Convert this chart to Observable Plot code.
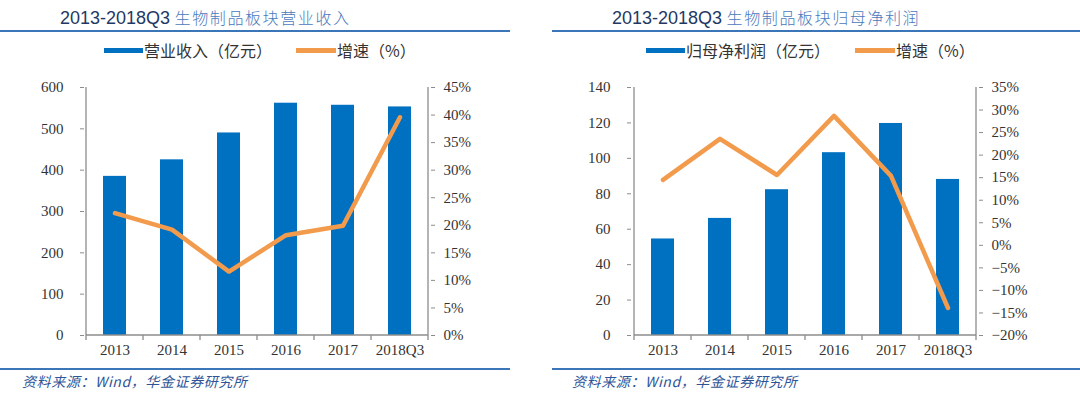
<!DOCTYPE html>
<html>
<head>
<meta charset="utf-8">
<script src="https://cdn.jsdelivr.net/npm/d3@7"></script>
<script src="https://cdn.jsdelivr.net/npm/@observablehq/plot@0.6"></script>
<style>
  html, body { margin: 0; padding: 0; background: #fff; }
  #root { position: relative; width: 1080px; height: 395px; overflow: hidden; background: #fff; }
  .panel { position: absolute; top: 0; width: 540px; height: 395px; }
  .title { position: absolute; top: 5px; white-space: nowrap; font-size: 18px; line-height: 24px; }
  .title .num { font-family: "Liberation Sans", Arial, sans-serif; color: #1f3864; }
  .title .cn { font-family: "Noto Sans CJK SC", sans-serif; color: #4a78bd; font-size: 16px; letter-spacing: 1.6px; font-weight: 300; }
  .hline { position: absolute; height: 2px; background: #3a76b8; }
  .legend { position: absolute; top: 38px; height: 24px; font-family: "Noto Sans CJK SC", sans-serif; font-size: 16px; color: #333; line-height: 24px; white-space: nowrap; }
  .sw { position: absolute; top: 10px; height: 5px; }
  .lt { position: absolute; top: 0; }
  .source { position: absolute; top: 371px; font-family: "Noto Sans CJK SC", sans-serif; font-style: italic; font-size: 14px; letter-spacing: 0.6px; color: #2f5597; white-space: nowrap; line-height: 20px; }
  .plotwrap { position: absolute; top: 70px; left: 0; }
</style>
</head>
<body>
<div id="root"></div>
<script>
// ---- data ----
const years = ["2013", "2014", "2015", "2016", "2017", "2018Q3"];
const revenue = [385, 425, 490, 562, 557, 553];          // 营业收入（亿元）
const revenueGrowth = [22.2, 19.2, 11.6, 18.2, 19.9, 39.6]; // 增速（%）
const profit = [54.5, 66.1, 82.3, 103.2, 119.7, 88.1];    // 归母净利润（亿元）
const profitGrowth = [14.5, 23.6, 15.6, 28.7, 15.4, -13.9]; // 增速（%）
const revenueTicks = [0, 100, 200, 300, 400, 500, 600];
const revenuePctTicks = [0, 5, 10, 15, 20, 25, 30, 35, 40, 45];
const profitTicks = [0, 20, 40, 60, 80, 100, 120, 140];
const profitPctTicks = [-20, -15, -10, -5, 0, 5, 10, 15, 20, 25, 30, 35];

const BLUE = "#0070c0";
const ORANGE = "#f39b4d";
const AXIS = "#8c8c8c";

function pctFmt(v) {
  return (v < 0 ? "\u2212" + Math.abs(v) : String(v)) + "%";
}

function makeChart(cfg) {
  const data = years.map((c, i) => ({cat: c, val: cfg.bars[i], pct: cfg.pct[i]}));
  const yDomain = [cfg.yTicks[0], cfg.yTicks[cfg.yTicks.length - 1]];
  const pDomain = [cfg.pTicks[0], cfg.pTicks[cfg.pTicks.length - 1]];
  const toY = d3.scaleLinear().domain(pDomain).range(yDomain);

  const axisLines = (index, scales, values, dims) => {
    const x = scales.x, y = scales.y;
    const bw = typeof x.bandwidth === "function" ? x.bandwidth() : x.bandwidth;
    const step = x(years[1]) - x(years[0]);
    const g = d3.create("svg:g").attr("stroke", AXIS).attr("stroke-width", 1.3).attr("fill", "none");
    const left = x(years[0]) + bw / 2 - step / 2;
    const right = x(years[years.length - 1]) + bw / 2 + step / 2;
    const top = y(yDomain[1]), bottom = y(yDomain[0]);
    g.append("line").attr("x1", left).attr("x2", left).attr("y1", top).attr("y2", bottom);
    g.append("line").attr("x1", right).attr("x2", right).attr("y1", top).attr("y2", bottom);
    g.append("line").attr("x1", left).attr("x2", right).attr("y1", bottom).attr("y2", bottom);
    const bounds = years.map(c => x(c) + bw / 2 - step / 2).concat([right]);
    for (const b of bounds) {
      g.append("line").attr("x1", b).attr("x2", b).attr("y1", bottom).attr("y2", bottom + 5);
    }
    return g.node();
  };

  return Plot.plot({
    width: 540,
    height: 300,
    marginTop: 17,
    marginBottom: 35,
    marginLeft: cfg.ml,
    marginRight: cfg.mr,
    style: {fontFamily: "'Liberation Serif', 'Times New Roman', serif", fontSize: "15px", color: "#333", background: "transparent"},
    x: {domain: years, paddingInner: 0.6, paddingOuter: 0.3, label: null},
    y: {domain: yDomain, label: null},
    marks: [
      Plot.barY(data, {x: "cat", y: "val", fill: BLUE}),
      Plot.lineY(data, {x: "cat", y: d => toY(d.pct), stroke: ORANGE, strokeWidth: 4.5, strokeLinejoin: "round", strokeLinecap: "round"}),
      axisLines,
      Plot.axisY(cfg.yTicks, {anchor: "left", tickSize: 4, tickPadding: 17, stroke: AXIS, fill: "#333", label: null}),
      Plot.axisY(cfg.pTicks.map(v => toY(v)), {anchor: "right", tickSize: 4, tickPadding: 9, stroke: AXIS, fill: "#333", label: null,
        tickFormat: v => pctFmt(Math.round(toY.invert(v)))}),
      Plot.axisX({tickSize: 0, tickPadding: 9, fill: "#333", label: null})
    ]
  });
}

const panels = [
  {
    left: 0,
    titleX: 60, title: "生物制品板块营业收入",
    topLine: [0, 510], botLine: [0, 510],
    leg1: "营业收入（亿元）", sw1: 104, sw2: 296,
    sourceX: 22,
    bars: revenue, pct: revenueGrowth, yTicks: revenueTicks, pTicks: revenuePctTicks, ml: 84, mr: 110
  },
  {
    left: 540,
    titleX: 72, title: "生物制品板块归母净利润",
    topLine: [12, 540], botLine: [12, 540],
    leg1: "归母净利润（亿元）", sw1: 106, sw2: 315,
    sourceX: 32,
    bars: profit, pct: profitGrowth, yTicks: profitTicks, pTicks: profitPctTicks, ml: 91, mr: 102
  }
];

const root = document.getElementById("root");
for (const p of panels) {
  const panel = document.createElement("div");
  panel.className = "panel";
  panel.style.left = p.left + "px";
  panel.innerHTML = `
    <div class="title" style="left:${p.titleX}px"><span class="num">2013-2018Q3</span> <span class="cn">${p.title}</span></div>
    <div class="hline" style="top:30px;left:${p.topLine[0]}px;width:${p.topLine[1] - p.topLine[0]}px"></div>
    <div class="legend" style="left:0;width:540px">
      <div class="sw" style="left:${p.sw1}px;width:39px;background:${BLUE}"></div>
      <div class="lt" style="left:${p.sw1 + 40}px">${p.leg1}</div>
      <div class="sw" style="left:${p.sw2}px;width:40px;background:${ORANGE}"></div>
      <div class="lt" style="left:${p.sw2 + 41}px">增速（%）</div>
    </div>
    <div class="hline" style="top:368px;left:${p.botLine[0]}px;width:${p.botLine[1] - p.botLine[0]}px"></div>
    <div class="source" style="left:${p.sourceX}px">资料来源：Wind，华金证券研究所</div>
  `;
  const wrap = document.createElement("div");
  wrap.className = "plotwrap";
  wrap.appendChild(makeChart(p));
  panel.appendChild(wrap);
  root.appendChild(panel);
}
</script>
</body>
</html>
